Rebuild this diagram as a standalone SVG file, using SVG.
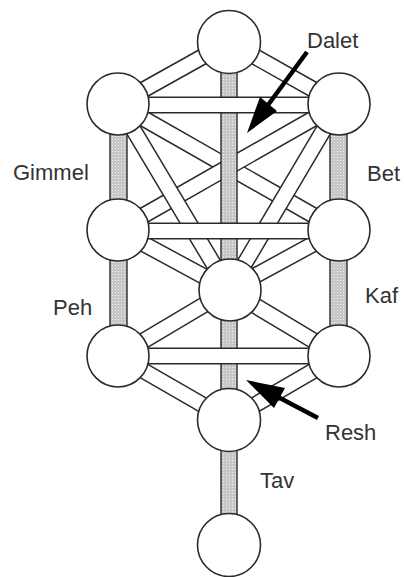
<svg xmlns="http://www.w3.org/2000/svg" width="404" height="577" viewBox="0 0 404 577">
<style>
.o{stroke:#2a2a2a;stroke-width:17;stroke-linecap:butt}
.i{stroke:#fff;stroke-width:14;stroke-linecap:butt}
.p{fill:url(#dots);stroke:#2a2a2a;stroke-width:1.4}
.n{fill:#fff;stroke:#2a2a2a;stroke-width:1.6}
.t{font-family:"Liberation Sans",Arial,sans-serif;font-size:22px;fill:#333}
.a{stroke:#000;stroke-width:4.5;fill:none}
</style>
<defs>
<pattern id="dots" width="3" height="3" patternUnits="userSpaceOnUse">
<rect width="3" height="3" fill="#c6c6c6"/>
<rect x="1" y="1" width="1" height="1" fill="#f2f2f2"/>
</pattern>
</defs>
<rect width="404" height="577" fill="#fff"/>
<g id="connectors">
<!-- diagonals -->
<line class="o" x1="229" y1="42" x2="339" y2="104"/><line class="i" x1="229" y1="42" x2="339" y2="104"/>
<line class="o" x1="229" y1="42" x2="118" y2="104"/><line class="i" x1="229" y1="42" x2="118" y2="104"/>
<line class="o" x1="118" y1="104" x2="339" y2="230"/><line class="i" x1="118" y1="104" x2="339" y2="230"/>
<line class="o" x1="339" y1="104" x2="118" y2="230"/><line class="i" x1="339" y1="104" x2="118" y2="230"/>
<line class="o" x1="118" y1="104" x2="229" y2="290"/><line class="i" x1="118" y1="104" x2="229" y2="290"/>
<line class="o" x1="339" y1="104" x2="229" y2="290"/><line class="i" x1="339" y1="104" x2="229" y2="290"/>
<line class="o" x1="118" y1="230" x2="229" y2="290"/><line class="i" x1="118" y1="230" x2="229" y2="290"/>
<line class="o" x1="339" y1="230" x2="229" y2="290"/><line class="i" x1="339" y1="230" x2="229" y2="290"/>
<line class="o" x1="229" y1="290" x2="118" y2="356"/><line class="i" x1="229" y1="290" x2="118" y2="356"/>
<line class="o" x1="229" y1="290" x2="339" y2="356"/><line class="i" x1="229" y1="290" x2="339" y2="356"/>
<line class="o" x1="118" y1="356" x2="229" y2="420"/><line class="i" x1="118" y1="356" x2="229" y2="420"/>
<line class="o" x1="339" y1="356" x2="229" y2="420"/><line class="i" x1="339" y1="356" x2="229" y2="420"/>
<!-- pillars -->
<rect class="p" x="221" y="42" width="16" height="248"/>
<rect class="p" x="221" y="290" width="16" height="130"/>
<rect class="p" x="221" y="420" width="16" height="125"/>
<rect class="p" x="110" y="104" width="17" height="126"/>
<rect class="p" x="110" y="230" width="17" height="126"/>
<rect class="p" x="330" y="104" width="17" height="126"/>
<rect class="p" x="330" y="230" width="17" height="126"/>
<!-- horizontals -->
<line class="o" x1="118" y1="105" x2="339" y2="105"/><line class="i" x1="118" y1="105" x2="339" y2="105"/>
<line class="o" x1="118" y1="231" x2="339" y2="231"/><line class="i" x1="118" y1="231" x2="339" y2="231"/>
<line class="o" x1="118" y1="356" x2="339" y2="356"/><line class="i" x1="118" y1="356" x2="339" y2="356"/>
</g>
<g id="kether"><circle class="n" cx="229" cy="42" r="31.5"/></g>
<g id="binah"><circle class="n" cx="118" cy="104" r="31"/></g>
<g id="chokmah"><circle class="n" cx="339" cy="104" r="31"/></g>
<g id="geburah"><circle class="n" cx="118" cy="230" r="31"/></g>
<g id="chesed"><circle class="n" cx="339" cy="230" r="31"/></g>
<g id="tiphareth"><circle class="n" cx="230" cy="290" r="31"/></g>
<g id="hod"><circle class="n" cx="118" cy="356" r="31"/></g>
<g id="netzach"><circle class="n" cx="339" cy="356" r="31"/></g>
<g id="yesod"><circle class="n" cx="229" cy="420" r="31.5"/></g>
<g id="malkuth"><circle class="n" cx="229" cy="545" r="31.5"/></g>
<g id="arrows">
<line class="a" x1="307" y1="52" x2="268" y2="105"/>
<polygon points="247,133 277,111 260,97" fill="#000"/>
<line class="a" x1="318" y1="418" x2="278" y2="397"/>
<polygon points="246,380 285,388 274,408" fill="#000"/>
</g>
<g id="labels">
<text class="t" x="307" y="48">Dalet</text>
<text class="t" x="13" y="180">Gimmel</text>
<text class="t" x="367" y="181">Bet</text>
<text class="t" x="53" y="315">Peh</text>
<text class="t" x="365" y="303">Kaf</text>
<text class="t" x="325" y="440">Resh</text>
<text class="t" x="260" y="488">Tav</text>
</g>
</svg>
